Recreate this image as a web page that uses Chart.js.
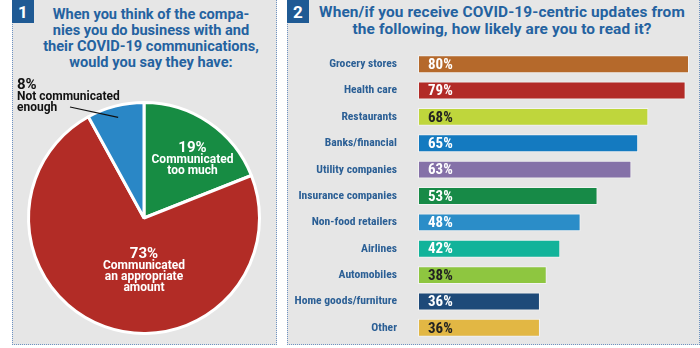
<!DOCTYPE html>
<html>
<head>
<meta charset="utf-8">
<script src="https://cdn.jsdelivr.net/npm/chart.js@4.4.1/dist/chart.umd.min.js"></script>
<style>
  html, body { margin: 0; padding: 0; background: #ffffff; }
  body { width: 700px; height: 348px; position: relative; overflow: hidden; font-family: Roboto, sans-serif; }
  .panel { position: absolute; top: 0; background: #e6e6e6;
           border: 1.5px dotted #6f93c2; border-top: none; box-sizing: border-box; }
  .num { position: absolute; top: 0; width: 22px; height: 23px; background: #1f5a94;
         color: #fff; font: bold 17px Roboto, sans-serif; text-align: center; line-height: 24px; }
  .title { position: absolute; color: #2462a0; font-weight: bold; text-align: center; }
  canvas { position: absolute; }
</style>
</head>
<body>
<div class="panel" style="left:12px; width:265px; height:345px;"></div>
<div class="panel" style="left:287px; width:413px; height:345px;"></div>
<div class="num" style="left:12px;">1</div>
<div class="num" style="left:287px;">2</div>
<div class="title" style="left:35px; width:232px; top:6px; font-size:14.6px; line-height:16px;">When you think of the compa-<br>nies you do business with and<br>their COVID-19 communications,<br>would you say they have:</div>
<div class="title" style="left:297px; width:410px; top:4px; font-size:15.4px; letter-spacing:0.12px; line-height:17px;">When/if you receive COVID-19-centric updates from<br>the following, how likely are you to read it?</div>

<div style="position:absolute; left:12px; top:70px; width:264px; height:274px;"><canvas id="pie"></canvas></div>
<div style="position:absolute; left:287px; top:40px; width:412px; height:304px;"><canvas id="bars"></canvas></div>

<script>
// Pie: how companies communicated about COVID-19
const pieLabels = ["Communicated too much", "Communicated an appropriate amount", "Not communicated enough"];
const pieValues = [19, 73, 8];
const pieColors = ["#178c43", "#b22c26", "#2a87c6"];

// Bars: likelihood of reading COVID-19 updates, by sender
const barCategories = ["Grocery stores", "Health care", "Restaurants", "Banks/financial",
  "Utility companies", "Insurance companies", "Non-food retailers", "Airlines",
  "Automobiles", "Home goods/furniture", "Other"];
const barValues = [80, 79, 68, 65, 63, 53, 48, 42, 38, 36, 36];
const barColors = ["#b5692b", "#b22b27", "#bfd63c", "#147ac0", "#8571a8", "#178a47",
  "#2b8dc8", "#12b39a", "#8ec640", "#1e4a79", "#e2b744"];
const barLabelColors = ["#fff", "#fff", "#222", "#fff", "#fff", "#fff", "#fff", "#fff", "#222", "#fff", "#222"];

const textFont = 'Roboto, sans-serif';

// Slice label text; positions are fractions of the radius from the pie centre
const pieLabelLines = [
  { lines: ["Communicated", "too much"], at: [0.42, -0.60], color: "#ffffff" },
  { lines: ["Communicated", "an appropriate", "amount"], at: [0.0, 0.313], color: "#ffffff" },
  { lines: ["Not communicated", "enough"], at: null, color: "#111111" }
];

const pieLabelPlugin = {
  id: 'pieLabels',
  afterDatasetsDraw(chart) {
    const ctx = chart.ctx;
    const arcs = chart.getDatasetMeta(0).data;
    ctx.save();
    arcs.forEach((arc, i) => {
      const cfg = pieLabelLines[i];
      const r = arc.outerRadius;
      const pct = pieValues[i] + '%';
      if (cfg.at) {
        const cx = arc.x + cfg.at[0] * r;
        const cy = arc.y + cfg.at[1] * r;
        ctx.fillStyle = cfg.color;
        ctx.textAlign = 'center';
        ctx.textBaseline = 'middle';
        ctx.font = 'bold 15px ' + textFont;
        ctx.fillText(pct, cx, cy);
        ctx.font = 'bold 12px ' + textFont;
        cfg.lines.forEach((ln, k) => ctx.fillText(ln, cx, cy + 11.5 + k * 11));
      } else {
        // outside label with a leader line into the slice
        const tx = 5, ty = 15;
        ctx.fillStyle = cfg.color;
        ctx.textAlign = 'left';
        ctx.textBaseline = 'middle';
        ctx.font = 'bold 15px ' + textFont;
        ctx.fillText(pct, tx, ty);
        ctx.font = 'bold 12px ' + textFont;
        cfg.lines.forEach((ln, k) => ctx.fillText(ln, tx, ty + 12 + k * 10.5));
        const mid = (arc.startAngle + arc.endAngle) / 2;
        const ex = arc.x + Math.cos(mid) * r * 0.9;
        const ey = arc.y + Math.sin(mid) * r * 0.9;
        ctx.strokeStyle = '#111';
        ctx.lineWidth = 1.2;
        ctx.beginPath();
        ctx.moveTo(58, 37);
        ctx.lineTo(ex, ey);
        ctx.stroke();
      }
    });
    ctx.restore();
  }
};

new Chart(document.getElementById('pie'), {
  type: 'pie',
  data: {
    labels: pieLabels,
    datasets: [{ data: pieValues, backgroundColor: pieColors, borderColor: '#ffffff', borderWidth: 3 }]
  },
  options: {
    responsive: true, maintainAspectRatio: false, animation: false,
    layout: { padding: { left: 15, right: 15, top: 31, bottom: 9 } },
    plugins: { legend: { display: false }, tooltip: { enabled: false } }
  },
  plugins: [pieLabelPlugin]
});

const barValuePlugin = {
  id: 'barValues',
  afterDatasetsDraw(chart) {
    const ctx = chart.ctx;
    ctx.save();
    ctx.font = 'condensed bold 15px ' + textFont;
    ctx.textAlign = 'left';
    ctx.textBaseline = 'middle';
    chart.getDatasetMeta(0).data.forEach((bar, i) => {
      ctx.fillStyle = barLabelColors[i];
      ctx.fillText(barValues[i] + '%', bar.base + 10, bar.y + 1);
    });
    ctx.restore();
  }
};

new Chart(document.getElementById('bars'), {
  type: 'bar',
  data: {
    labels: barCategories,
    datasets: [{
      data: barValues, backgroundColor: barColors,
      borderColor: '#f3f3f3', borderWidth: 1, borderSkipped: false,
      barPercentage: 1, categoryPercentage: 0.68
    }]
  },
  options: {
    indexAxis: 'y',
    responsive: true, maintainAspectRatio: false, animation: false,
    layout: { padding: { left: 0, right: 10, top: 11, bottom: 3 } },
    scales: {
      x: { display: false, min: 0, max: 80 },
      y: {
        grid: { display: false }, border: { display: false },
        ticks: { color: '#2b5f95', padding: 13, font: { family: textFont, size: 11.6, weight: 'condensed bold' } },
        afterFit(scale) {
          scale.width = 131;
          scale.paddingTop = 0;
          scale.paddingBottom = 0;
        }
      }
    },
    plugins: { legend: { display: false }, tooltip: { enabled: false } }
  },
  plugins: [barValuePlugin]
});
</script>
</body>
</html>
